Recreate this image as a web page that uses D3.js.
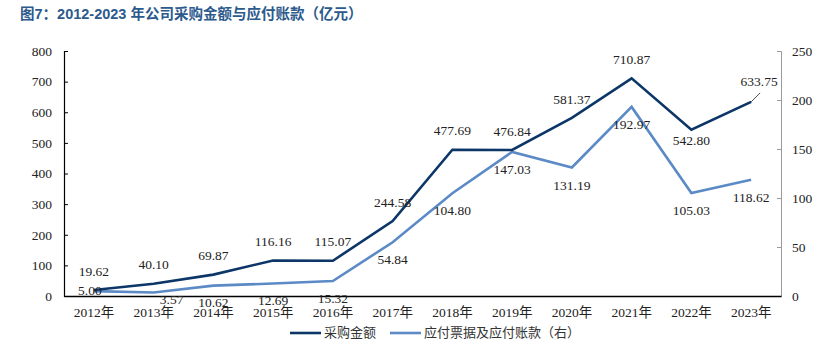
<!DOCTYPE html>
<html><head><meta charset="utf-8">
<script src="https://cdn.jsdelivr.net/npm/d3@7"></script>
<style>body{margin:0;background:#fff}svg{display:block}</style>
</head><body>
<svg id="c" width="835" height="346"></svg>
<script>
const categories = ["2012年","2013年","2014年","2015年","2016年","2017年","2018年","2019年","2020年","2021年","2022年","2023年"];
const purchase = [19.62,40.10,69.87,116.16,115.07,244.58,477.69,476.84,581.37,710.87,542.80,633.75];
const payable = [5.00,3.57,10.62,12.69,15.32,54.84,104.80,147.03,131.19,192.97,105.03,118.62];
const leftTicks = [0,100,200,300,400,500,600,700,800];
const rightTicks = [0,50,100,150,200,250];
const seriesNames = ["采购金额","应付票据及应付账款（右）"];
const title = "图7：2012-2023 年公司采购金额与应付账款（亿元）";

const svg = d3.select("#c");
const L = 64, R = 781, T = 51, B = 296;
const darkC = "#0c3667", lightC = "#5b8ac6";
const serif = "'Liberation Serif','Noto Sans CJK SC',serif";

const x = d3.scaleBand().domain(categories).range([L, R]).padding(0);
const cx = d => x(d) + x.bandwidth()/2;
const yL = d3.scaleLinear().domain([0,800]).range([B, T]);
const yR = d3.scaleLinear().domain([0,250]).range([B, T]);

svg.append("text").attr("x", 20).attr("y", 19).text(title)
  .attr("font-family","'Liberation Sans','Noto Sans CJK SC',sans-serif")
  .attr("font-weight","bold").attr("font-size",14.5).attr("fill","#2c5a8c");

// left axis
const gl = svg.append("g").attr("transform",`translate(${L},0)`)
  .call(d3.axisLeft(yL).tickValues(leftTicks).tickSize(-4).tickPadding(12).tickSizeOuter(-4));
gl.select(".domain").attr("stroke","#000").attr("stroke-width",1.2);
gl.selectAll(".tick line").attr("stroke","#000");
gl.selectAll("text").attr("font-family",serif).attr("font-size",13.5).attr("fill","#222");

// right axis
const gr = svg.append("g").attr("transform",`translate(${R},0)`)
  .call(d3.axisRight(yR).tickValues(rightTicks).tickSize(-4).tickPadding(11).tickSizeOuter(-4));
gr.select(".domain").attr("stroke","#9a9a9a");
gr.selectAll(".tick line").attr("stroke","#9a9a9a");
gr.selectAll("text").attr("font-family",serif).attr("font-size",13.5).attr("fill","#222");

// bottom axis
const gb = svg.append("g").attr("transform",`translate(0,${B})`)
  .call(d3.axisBottom(x).tickSize(0).tickPadding(11));
gb.select(".domain").attr("stroke","#000").attr("stroke-width",1.6);
gb.selectAll("text").attr("font-family",serif).attr("font-size",13.5).attr("fill","#222");

// lines
const lineL = d3.line().x((d,i)=>cx(categories[i])).y(d=>yL(d));
const lineR = d3.line().x((d,i)=>cx(categories[i])).y(d=>yR(d));
svg.append("path").attr("d", lineR(payable)).attr("fill","none").attr("stroke",lightC).attr("stroke-width",2.6).attr("stroke-linejoin","miter");
svg.append("path").attr("d", lineL(purchase)).attr("fill","none").attr("stroke",darkC).attr("stroke-width",2.6).attr("stroke-linejoin","miter");

// labels
const fmt = d3.format(".2f");
const lab = (xx, yy, t) => svg.append("text").attr("x",xx).attr("y",yy).text(t)
  .attr("text-anchor","middle").attr("dominant-baseline","middle")
  .attr("font-family",serif).attr("font-size",13.5).attr("fill","#222");

purchase.forEach((v,i)=>{
  const px = cx(categories[i]), py = yL(v);
  if (i === 10) lab(px, py+12, fmt(v));
  else if (i === 11) {
    svg.append("line").attr("x1",px).attr("y1",py).attr("x2",px+9).attr("y2",py-9).attr("stroke","#222").attr("stroke-width",0.8);
    lab(px+8, py-19, fmt(v));
  }
  else lab(px, py-17.5, fmt(v));
});
payable.forEach((v,i)=>{
  const px = cx(categories[i]), py = yR(v);
  let dy = 19, dx = 0;
  if (i === 0) { dy = 1; dx = -4; }
  else if (i === 1) { dy = 8; dx = 18; }
  else if (i <= 4) dy = 18.5;
  lab(px + dx, py + dy, fmt(v));
});

// legend
const leg = svg.append("g");
[[290, darkC, seriesNames[0]],[390, lightC, seriesNames[1]]].forEach(([lx,c,t])=>{
  leg.append("line").attr("x1",lx).attr("x2",lx+31).attr("y1",333).attr("y2",333).attr("stroke",c).attr("stroke-width",2.6);
  leg.append("text").attr("x",lx+34).attr("y",333).attr("dominant-baseline","middle").text(t)
    .attr("font-family","'Noto Sans CJK SC',sans-serif").attr("font-size",13).attr("fill","#333");
});
</script>
</body></html>
